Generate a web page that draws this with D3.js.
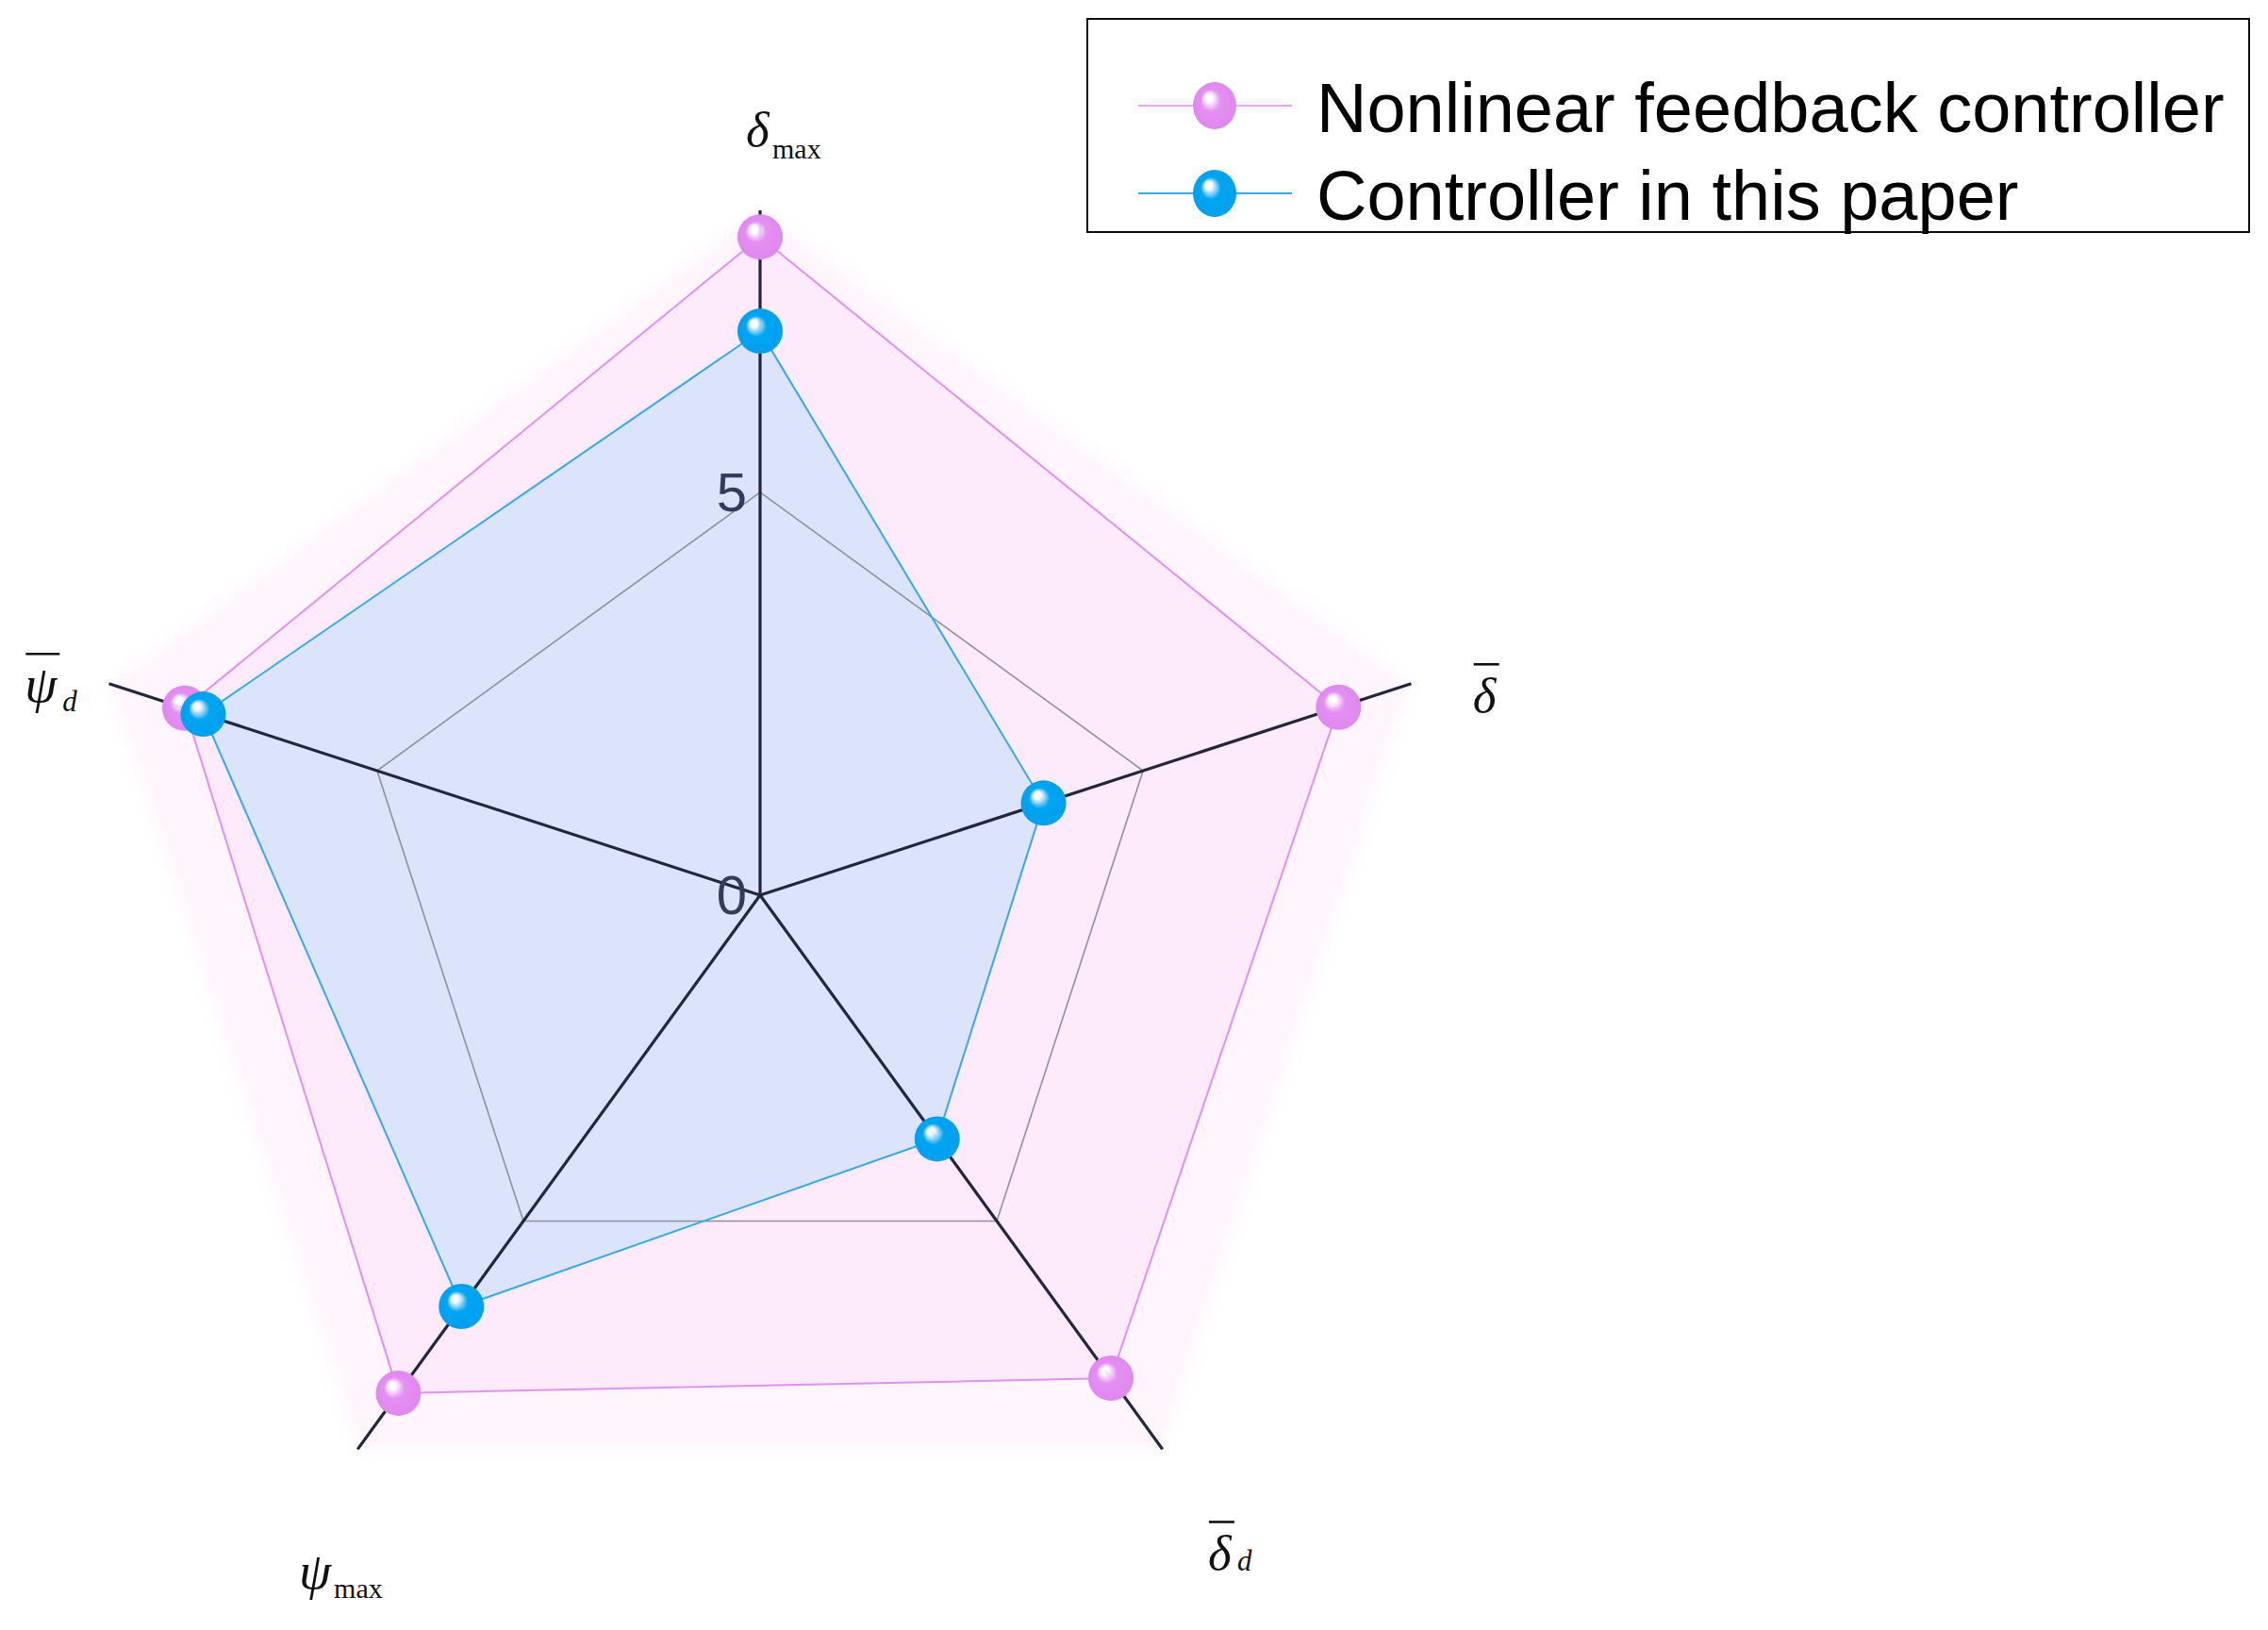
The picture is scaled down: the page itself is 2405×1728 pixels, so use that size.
<!DOCTYPE html>
<html>
<head>
<meta charset="utf-8">
<script src="https://cdn.jsdelivr.net/npm/d3@7"></script>
<style>
  html, body { margin: 0; padding: 0; background: #ffffff; }
  svg { display: block; }
</style>
</head>
<body>
<script>
// ---------------- data ----------------
const axisSymbols = ["δ", "δ", "δ", "ψ", "ψ"];
const axisBars = [false, true, true, false, true];
const axisSubs = ["max", "", "d", "max", "d"];
const nonlinearValues = [8.17, 7.55, 7.41, 7.64, 7.51];
const proposedValues = [7.00, 3.70, 3.74, 6.31, 7.27];
const tickValues = [0, 5];
const seriesNames = ["Nonlinear feedback controller", "Controller in this paper"];
const axisMax = 8.5;

// ---------------- layout ----------------
const W = 2405, H = 1728;
const cx = 806, cy = 949, R = 726;
const labelRadius = 9.5;
const labelNudge = [[-15, 17], [-16, 57], [-2, 59], [-12, 79], [-8, 46]];
const subShift = [13, 0, 1, 10, 10];
const pinkC = "#e48ff2", blueC = "#00a5f2";

const svg = d3.select("body").append("svg").attr("width", W).attr("height", H);
const defs = svg.append("defs");

function sphereGrad(id, base, dark) {
  const g = defs.append("radialGradient").attr("id", id)
    .attr("cx", "0.5").attr("cy", "0.5").attr("r", "0.5")
    .attr("fx", "0.34").attr("fy", "0.3");
  g.append("stop").attr("offset", "0").attr("stop-color", "#ffffff");
  g.append("stop").attr("offset", "0.15").attr("stop-color", "#ffffff").attr("stop-opacity", 0.9);
  g.append("stop").attr("offset", "0.46").attr("stop-color", base);
  g.append("stop").attr("offset", "1").attr("stop-color", dark);
}
sphereGrad("gPink", pinkC, "#df88ef");
sphereGrad("gBlue", blueC, "#00a0ee");

const blur = defs.append("filter").attr("id", "soft")
  .attr("x", "-20%").attr("y", "-20%").attr("width", "140%").attr("height", "140%");
blur.append("feGaussianBlur").attr("stdDeviation", 9);

const r = d3.scaleLinear().domain([0, axisMax]).range([0, R]);
const n = axisSymbols.length;
const angle = i => -Math.PI / 2 + i * 2 * Math.PI / n;
const pt = (i, v) => [cx + r(v) * Math.cos(angle(i)), cy + r(v) * Math.sin(angle(i))];
const idx = d3.range(n);
const line = d3.line().curve(d3.curveLinearClosed);

// faint outer glow pentagon
svg.append("path")
  .attr("d", line(idx.map(i => pt(i, axisMax))))
  .attr("fill", "#fff5fd").attr("filter", "url(#soft)");

// filled polygons
svg.append("path").attr("d", line(idx.map(i => pt(i, nonlinearValues[i]))))
  .attr("fill", "#fdeafb");
svg.append("path").attr("d", line(idx.map(i => pt(i, proposedValues[i]))))
  .attr("fill", "#dbe4fa");

// grid pentagon at tick 5
svg.append("g").selectAll("path").data(tickValues.filter(t => t > 0)).join("path")
  .attr("d", t => line(idx.map(i => pt(i, t))))
  .attr("fill", "none").attr("stroke", "#8e90a4").attr("stroke-width", 1.6);

// axes
svg.append("g").selectAll("line").data(idx).join("line")
  .attr("x1", cx).attr("y1", cy)
  .attr("x2", i => pt(i, axisMax)[0]).attr("y2", i => pt(i, axisMax)[1])
  .attr("stroke", "#23263f").attr("stroke-width", 3.2);

// tick labels
svg.append("g").selectAll("text").data(tickValues).join("text")
  .attr("x", cx - 14).attr("y", t => pt(0, t)[1] + 20)
  .attr("text-anchor", "end")
  .attr("font-family", "Liberation Sans, Arial, sans-serif")
  .attr("font-size", 58).attr("fill", "#363b5e")
  .text(t => t);

// series outlines
svg.append("path").attr("d", line(idx.map(i => pt(i, nonlinearValues[i]))))
  .attr("fill", "none").attr("stroke", "#e48ff2").attr("stroke-width", 2);
svg.append("path").attr("d", line(idx.map(i => pt(i, proposedValues[i]))))
  .attr("fill", "none").attr("stroke", "#35a9ea").attr("stroke-width", 2);

// markers
svg.append("g").selectAll("circle").data(idx).join("circle")
  .attr("cx", i => pt(i, nonlinearValues[i])[0]).attr("cy", i => pt(i, nonlinearValues[i])[1])
  .attr("r", 24).attr("fill", "url(#gPink)");
svg.append("g").selectAll("circle").data(idx).join("circle")
  .attr("cx", i => pt(i, proposedValues[i])[0]).attr("cy", i => pt(i, proposedValues[i])[1])
  .attr("r", 24).attr("fill", "url(#gBlue)");

// axis labels
idx.forEach(i => {
  const p = pt(i, labelRadius);
  const x = p[0] + labelNudge[i][0], y = p[1] + labelNudge[i][1];
  const g = svg.append("g");
  const fs = axisSymbols[i] === "ψ" ? 55 : 53;
  const main = g.append("text").attr("x", x).attr("y", y)
    .attr("font-family", "Liberation Serif, Times New Roman, serif")
    .attr("font-style", "italic").attr("font-size", fs).attr("fill", "#111")
    .text(axisSymbols[i]);
  const bb = main.node().getBBox();
  if (axisBars[i]) {
    g.append("line").attr("x1", bb.x + 1).attr("x2", bb.x + bb.width + 2)
      .attr("y1", y - 51).attr("y2", y - 51)
      .attr("stroke", "#111").attr("stroke-width", 2.6);
  }
  if (axisSubs[i]) {
    const isMax = axisSubs[i] === "max";
    g.append("text").attr("x", bb.x + bb.width + (isMax ? 2 : 5)).attr("y", y + subShift[i])
      .attr("font-family", "Liberation Serif, Times New Roman, serif")
      .attr("font-style", isMax ? "normal" : "italic")
      .attr("font-size", isMax ? 30 : 31).attr("fill", "#111")
      .text(axisSubs[i]);
  }
});

// legend
const lg = svg.append("g");
lg.append("rect").attr("x", 1153).attr("y", 20).attr("width", 1232).attr("height", 226)
  .attr("fill", "#ffffff").attr("stroke", "#111").attr("stroke-width", 2);
const legendY = [112, 205];
const legendColors = [["#e7a6f2", "url(#gPink)"], ["#3aa6e2", "url(#gBlue)"]];
seriesNames.forEach((name, k) => {
  const yy = legendY[k];
  lg.append("line").attr("x1", 1207).attr("x2", 1370).attr("y1", yy).attr("y2", yy)
    .attr("stroke", legendColors[k][0]).attr("stroke-width", 2);
  lg.append("ellipse").attr("cx", 1288).attr("cy", yy).attr("rx", 23).attr("ry", 25)
    .attr("fill", legendColors[k][1]);
  lg.append("text").attr("x", 1396).attr("y", yy + 28)
    .attr("font-family", "Liberation Sans, Arial, sans-serif")
    .attr("font-size", 74).attr("fill", "#000")
    .text(name);
});
</script>
</body>
</html>
